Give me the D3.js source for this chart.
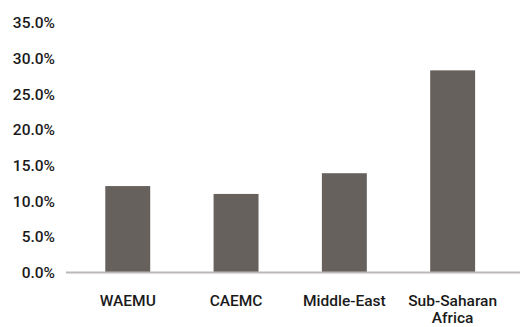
<!DOCTYPE html>
<html>
<head>
<meta charset="utf-8">
<script src="https://cdn.jsdelivr.net/npm/d3@7"></script>
<style>
  body { margin: 0; background: #fff; }
  text { font-family: Roboto, "DejaVu Sans", sans-serif; fill: #1a1a1a; font-weight: 500; }
</style>
</head>
<body>
<div id="chart"></div>
<script>
// chart values
var categories = ["WAEMU", "CAEMC", "Middle-East", "Sub-Saharan Africa"];
var values = [12.1, 11.0, 13.9, 28.3];
var yTicks = [0, 5, 10, 15, 20, 25, 30, 35];

var WIDTH = 520;
var HEIGHT = 327;

var svg = d3.select("#chart").append("svg")
  .attr("width", WIDTH)
  .attr("height", HEIGHT);

var x = d3.scaleBand()
  .domain(categories)
  .range([73.6, 506.8])
  .paddingInner(0.585)
  .paddingOuter(0.2925);

var y = d3.scaleLinear()
  .domain([0, 35])
  .range([272.5, 22.5]);

// y tick labels, no axis line
svg.append("g").selectAll("text")
  .data(yTicks)
  .enter().append("text")
  .attr("x", 55)
  .attr("y", function (d) { return y(d); })
  .attr("dy", "0.36em")
  .attr("text-anchor", "end")
  .style("font-size", "15.5px")
  .text(function (d) { return d.toFixed(1) + "%"; });

// bars
svg.append("g").selectAll("rect")
  .data(values)
  .enter().append("rect")
  .attr("x", function (d, i) { return x(categories[i]); })
  .attr("width", x.bandwidth())
  .attr("y", function (d) { return y(d); })
  .attr("height", function (d) { return y(0) - y(d); })
  .attr("fill", "#66615d");

// baseline
svg.append("line")
  .attr("x1", 66).attr("x2", 520)
  .attr("y1", y(0)).attr("y2", y(0))
  .attr("stroke", "#bdb8b8")
  .attr("stroke-width", 2);

// category labels, wrapped like the original
var labelLines = {
  "Sub-Saharan Africa": ["Sub-Saharan", "Africa"]
};
var lbl = svg.append("g").selectAll("text")
  .data(categories)
  .enter().append("text")
  .attr("x", function (d) { return x(d) + x.bandwidth() / 2; })
  .attr("y", 300.5)
  .attr("text-anchor", "middle")
  .style("font-size", "15.5px");

lbl.each(function (d) {
  var lines = labelLines[d] || [d];
  var t = d3.select(this);
  lines.forEach(function (l, i) {
    t.append("tspan")
      .attr("x", x(d) + x.bandwidth() / 2)
      .attr("dy", i === 0 ? "0.36em" : "1.1em")
      .text(l);
  });
});
</script>
</body>
</html>
